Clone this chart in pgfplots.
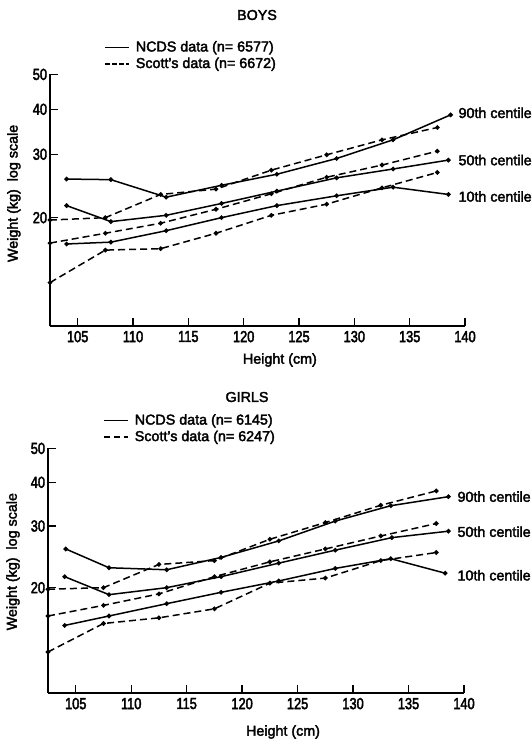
\documentclass[border=0pt]{standalone}
\usepackage{fontspec}
\setmainfont{Liberation Sans}[FakeBold=2.5]
\newfontfamily\tickfont{Liberation Sans}[FakeBold=2.5, FakeStretch=0.8]
\usepackage{pgfplots}
\pgfplotsset{compat=1.18}

% 1pt = 1 pixel of the reference
\tikzset{
  scott/.style={dash pattern=on 7pt off 4pt},
  cent/.style={anchor=west, inner sep=0pt},
}

\begin{document}
\fontsize{14.3}{16}\selectfont
\begin{tikzpicture}
\path[use as bounding box] (0,0) rectangle (532pt,-739pt);

\node at (257pt,-15pt) {BOYS};
\begin{axis}[
  scale only axis, width=415pt, height=251.6pt,
  at={(50pt,-326pt)}, anchor=south west,
  ymode=log, xmin=102.5, xmax=140, ymin=10, ymax=50,
  axis lines=left, axis line style={-, line width=1.5pt},
  xtick={105,110,...,140}, ytick={20,30,40,50}, yticklabels={20,30,40,50},
  minor ytick={}, tick align=inside, major tick length=8pt,
  tick style={line width=1.3pt, black},
  /pgf/number format/assume math mode=true,
  tick label style={font=\tickfont\fontsize{16}{18}\selectfont},
  yticklabel style={xshift=2pt},
  clip=false,
  legend cell align=left,
  legend style={draw=none, fill=none, anchor=north west, row sep=0pt,
    column sep=4pt, at={(axis description cs:0.123,1.149)}},
  legend image code/.code={\draw[line width=1.6pt, #1] (0pt,0pt) -- (24pt,0pt);},
  xlabel={Height (cm)}, ylabel={Weight (kg)\ \ log scale},
  xlabel style={at={(axis description cs:0.554,0)}, anchor=center, yshift=-34pt},
  ylabel style={at={(axis description cs:-0.087,0.527)}, anchor=center},
  every axis plot/.append style={black, line width=1.5pt, mark=*,
    mark size=1.5pt, mark options={solid}},
]
  \addlegendimage{solid}
  \addlegendentry{NCDS data (n= 6577)}
  \addlegendimage{dash pattern=on 4.5pt off 2.5pt}
  \addlegendentry{Scott's data (n= 6672)}
  % NCDS 90th, 50th, 10th
  \addplot[forget plot] coordinates {(104,25.6) (108,25.5) (113,22.8) (118,24.6) (123,26.4) (128.4,29.2) (133.5,32.9) (138.7,38.6)};
  \addplot[forget plot] coordinates {(104,21.6) (108,19.5) (113,20.3) (118,21.9) (123,23.7) (128.4,25.8) (133.5,27.3) (138.5,28.9)};
  \addplot[forget plot] coordinates {(104,16.9) (108,17.1) (113,18.4) (118,20.0) (123,21.6) (128.4,23.0) (133.5,24.3) (138.5,23.2)};
  % Scott 90th, 50th, 10th
  \addplot[forget plot, scott] coordinates {(102.5,19.7) (107.5,20.0) (112.5,23.2) (117.5,24.0) (122.5,27.1) (127.5,29.9) (132.5,32.9) (137.5,35.6)};
  \addplot[forget plot, scott] coordinates {(102.5,17.0) (107.5,18.1) (112.5,19.3) (117.5,21.1) (122.5,23.3) (127.5,25.9) (132.5,28.0) (137.5,30.6)};
  \addplot[forget plot, scott] coordinates {(102.5,13.2) (107.5,16.25) (112.5,16.4) (117.5,18.1) (122.5,20.3) (127.5,21.8) (132.5,24.2) (137.5,26.7)};
  \node[cent] at (axis cs:139.4,39.1) {90th centile};
  \node[cent] at (axis cs:139.4,28.9) {50th centile};
  \node[cent] at (axis cs:139.4,22.9) {10th centile};
\end{axis}

\node at (247pt,-397pt) {GIRLS};
\begin{axis}[
  scale only axis, width=416pt, height=244.6pt,
  at={(48pt,-693pt)}, anchor=south west,
  ymode=log, xmin=102.5, xmax=140, ymin=10, ymax=50,
  axis lines=left, axis line style={-, line width=1.5pt},
  xtick={105,110,...,140}, ytick={20,30,40,50}, yticklabels={20,30,40,50},
  minor ytick={}, tick align=inside, major tick length=8pt,
  tick style={line width=1.3pt, black},
  /pgf/number format/assume math mode=true,
  tick label style={font=\tickfont\fontsize{16}{18}\selectfont},
  yticklabel style={xshift=2pt},
  clip=false,
  legend cell align=left,
  legend style={draw=none, fill=none, anchor=north west, row sep=0pt,
    column sep=4pt, at={(axis description cs:0.125,1.157)}},
  legend image code/.code={\draw[line width=1.6pt, #1] (0pt,0pt) -- (24pt,0pt);},
  xlabel={Height (cm)}, ylabel={Weight (kg)\ \ log scale},
  xlabel style={at={(axis description cs:0.565,0)}, anchor=center, yshift=-39pt},
  ylabel style={at={(axis description cs:-0.084,0.537)}, anchor=center},
  every axis plot/.append style={black, line width=1.5pt, mark=*,
    mark size=1.5pt, mark options={solid}},
]
  \addlegendimage{solid}
  \addlegendentry{NCDS data (n= 6145)}
  \addlegendimage{dash pattern=on 6.5pt off 3.5pt}
  \addlegendentry{Scott's data (n= 6247)}
  \addplot[forget plot] coordinates {(104.1,25.8) (108,22.8) (113.2,22.5) (118.1,24.4) (123.3,27.2) (128.4,31.0) (133.4,34.3) (138.6,36.4)};
  \addplot[forget plot] coordinates {(104,21.5) (108,19.1) (113.2,20.0) (118.1,21.5) (123.3,23.5) (128.4,25.6) (133.5,27.8) (138.6,29.0)};
  \addplot[forget plot] coordinates {(104,15.6) (108,16.6) (113.2,18.0) (118.1,19.4) (123.3,20.9) (128.4,22.7) (133.4,24.2) (138.3,22.0)};
  \addplot[forget plot, scott] coordinates {(102.5,19.8) (107.5,20.0) (112.5,23.3) (117.5,23.9) (122.5,27.5) (127.5,30.7) (132.5,34.4) (137.5,37.8)};
  \addplot[forget plot, scott] coordinates {(102.5,16.6) (107.5,17.8) (112.5,19.2) (117.5,21.5) (122.5,23.7) (127.5,25.8) (132.5,28.1) (137.5,30.5)};
  \addplot[forget plot, scott] coordinates {(102.5,13.1) (107.5,15.8) (112.5,16.4) (117.5,17.4) (122.5,20.6) (127.5,21.3) (132.5,23.9) (137.5,25.2)};
  \node[cent] at (axis cs:139.4,36.4) {90th centile};
  \node[cent] at (axis cs:139.4,28.9) {50th centile};
  \node[cent] at (axis cs:139.4,21.7) {10th centile};
\end{axis}
\end{tikzpicture}
\end{document}
